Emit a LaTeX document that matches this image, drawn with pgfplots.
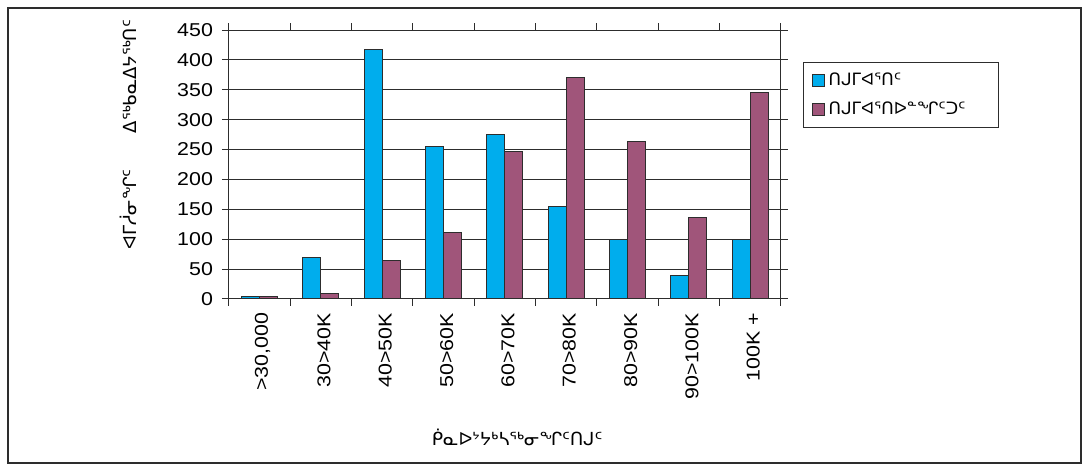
\documentclass[border=0pt]{standalone}
\usepackage{fontspec}
\setmainfont{Liberation Sans}
\newfontfamily\tickfont{Liberation Sans}[FakeStretch=1.15]
\newfontfamily\syl{DejaVu Sans}
\usepackage{pgfplots}
\pgfplotsset{compat=1.18}
\definecolor{barblue}{RGB}{0,173,237}
\definecolor{barpurple}{RGB}{160,85,122}
\definecolor{edge}{RGB}{45,45,45}
\begin{document}
\begin{tikzpicture}[x=1pt,y=1pt]
\draw[edge, line width=0.6pt] (4,1.5) rectangle (540.5,229);
\begin{axis}[
  at={(114.5pt,83.5pt)}, anchor=south west,
  width=276pt, height=134.5pt, scale only axis,
  xmin=-0.5, xmax=8.5, ymin=0, ymax=450,
  ytick={0,50,...,450},
  ymajorgrids, grid style={edge, line width=0.5pt},
  axis line style={edge, line width=0.5pt},
  tick style={edge, line width=0.5pt},
  tick align=outside,
  major tick length=3.5pt,
  minor tick length=3.5pt,
  xtick={0,...,8},
  xticklabels={>30{,}000, 30>40K, 40>50K, 50>60K, 60>70K, 70>80K, 80>90K, 90>100K, 100K +},
  xticklabel style={rotate=90, anchor=east, yshift=-1.5pt},
  major x tick style={draw=none},
  minor xtick={-0.5,0.5,1.5,2.5,3.5,4.5,5.5,6.5,7.5,8.5},
  ybar=0pt, bar width=9pt,
  tick label style={font=\tickfont\fontsize{9.3}{11}\selectfont},
  yticklabel style={xshift=-1pt},
  /pgf/number format/assume math mode=true,
  ylabel={\syl ᐊᒥᓲᓂᖏᑦ\quad\quad ᐃᖅᑲᓇᐃᔭᖅᑎᑦ},
  ylabel style={at={(axis description cs:-0.182,0.61)}, anchor=center, font=\syl\fontsize{9}{11}\selectfont},
  xlabel={\syl ᑮᓇᐅᔾᔭᒃᓴᖅᓂᖏᑦᑎᒍᑦ},
  xlabel style={at={(axis description cs:0.522,-0.513)}, anchor=center, font=\syl\fontsize{9}{11}\selectfont},
  legend style={at={(1.04,0.881)}, anchor=north west, draw=edge, line width=0.5pt,
    font=\syl\fontsize{8.5}{10}\selectfont, row sep=3pt, inner xsep=4pt, inner ysep=3pt},
  legend cell align=left,
  legend image code/.code={\draw[#1] (0pt,-3pt) rectangle (6pt,3pt);},
]
\addplot[fill=barblue, draw=edge, line width=0.5pt] coordinates {(0,4) (1,70) (2,418) (3,255) (4,276) (5,155) (6,100) (7,40) (8,100)};
\addplot[fill=barpurple, draw=edge, line width=0.5pt] coordinates {(0,4) (1,9) (2,64) (3,112) (4,246) (5,370) (6,264) (7,137) (8,346)};
\legend{\makebox[79pt][l]{ᑎᒍᒥᐊᕐᑎᑦ}, \makebox[79pt][l]{ᑎᒍᒥᐊᕐᑎᐅᓐᖏᑦᑐᑦ}}
\end{axis}
\pgfresetboundingbox
\path (0,0) rectangle (544.5,233);
\end{tikzpicture}
\end{document}
